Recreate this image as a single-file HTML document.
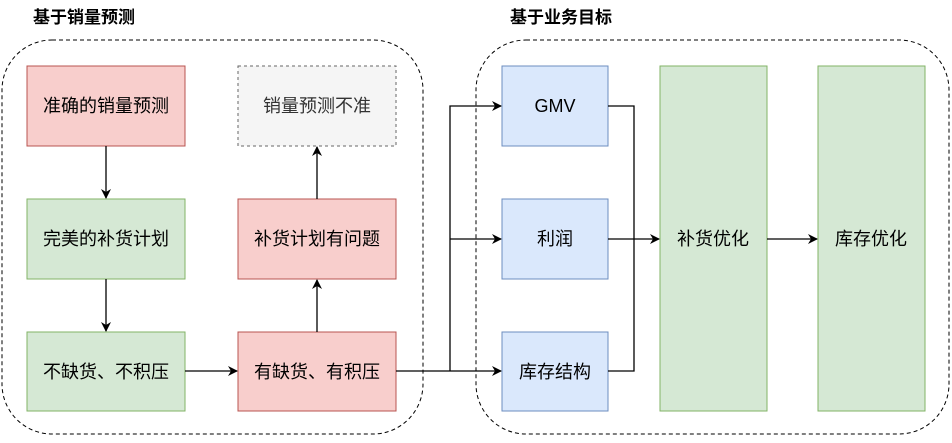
<!DOCTYPE html>
<html><head><meta charset="utf-8"><style>
body{margin:0;background:#fff;}
svg text{font-family:"Liberation Sans","Noto Sans CJK SC",sans-serif;}
</style></head><body>
<svg width="952" height="438" viewBox="0 0 952 438" xmlns="http://www.w3.org/2000/svg">
<defs><marker id="a" markerWidth="10" markerHeight="10" refX="9" refY="5" orient="auto" markerUnits="userSpaceOnUse"><path d="M0,0 L10,5 L0,10 L3,5 Z" fill="#000"/></marker></defs>
<text x="33" y="23" font-size="17" font-weight="bold">基于销量预测</text>
<text x="510" y="23" font-size="17" font-weight="bold">基于业务目标</text>
<rect x="2" y="40" width="421" height="394" rx="50" fill="none" stroke="#000" stroke-dasharray="4,3"/>
<rect x="476" y="40" width="473" height="394" rx="50" fill="none" stroke="#000" stroke-dasharray="4,3"/>
<g font-size="18" text-anchor="middle">
<rect x="27" y="66" width="158" height="80" fill="#f8cecc" stroke="#b85450"/><text x="106" y="112">准确的销量预测</text>
<rect x="238" y="66" width="158" height="80" fill="#f5f5f5" stroke="#666" stroke-dasharray="3,3"/><text x="317" y="112" fill="#333">销量预测不准</text>
<rect x="27" y="199" width="158" height="80" fill="#d5e8d4" stroke="#82b366"/><text x="106" y="245">完美的补货计划</text>
<rect x="238" y="199" width="158" height="80" fill="#f8cecc" stroke="#b85450"/><text x="317" y="245">补货计划有问题</text>
<rect x="27" y="332" width="158" height="79" fill="#d5e8d4" stroke="#82b366"/><text x="106" y="378">不缺货、不积压</text>
<rect x="238" y="332" width="158" height="79" fill="#f8cecc" stroke="#b85450"/><text x="317" y="378">有缺货、有积压</text>
<rect x="502" y="66" width="106" height="80" fill="#dae8fc" stroke="#6c8ebf"/><text x="555" y="112">GMV</text>
<rect x="502" y="199" width="106" height="80" fill="#dae8fc" stroke="#6c8ebf"/><text x="555" y="245">利润</text>
<rect x="502" y="332" width="106" height="79" fill="#dae8fc" stroke="#6c8ebf"/><text x="555" y="378">库存结构</text>
<rect x="660" y="66" width="107" height="345" fill="#d5e8d4" stroke="#82b366"/><text x="713" y="245">补货优化</text>
<rect x="818" y="66" width="107" height="345" fill="#d5e8d4" stroke="#82b366"/><text x="871" y="245">库存优化</text>
</g>
<g stroke="#000" stroke-width="1.3" fill="none">
<path d="M106 146 V198" marker-end="url(#a)"/>
<path d="M106 279 V331" marker-end="url(#a)"/>
<path d="M185 371 H237" marker-end="url(#a)"/>
<path d="M317 332 V280" marker-end="url(#a)"/>
<path d="M317 199 V147" marker-end="url(#a)"/>
<path d="M396 371 H501" marker-end="url(#a)"/>
<path d="M450 371 V106 H501" marker-end="url(#a)"/>
<path d="M450 239 H501" marker-end="url(#a)"/>
<path d="M608 106 H634 V371 H608"/>
<path d="M608 239 H659" marker-end="url(#a)"/>
<path d="M767 239 H817" marker-end="url(#a)"/>
</g>
</svg>
</body></html>
